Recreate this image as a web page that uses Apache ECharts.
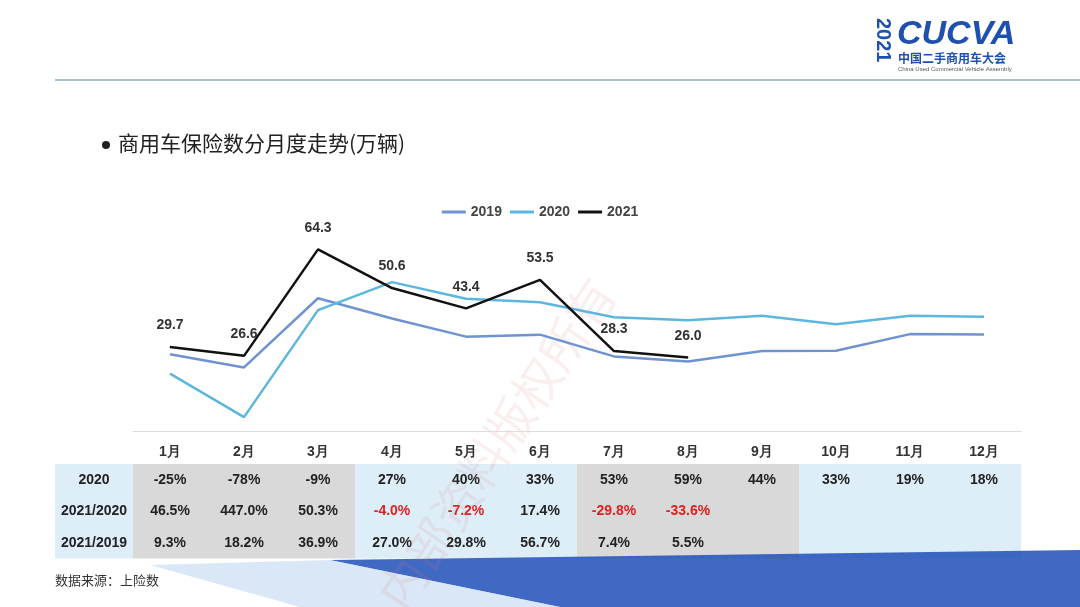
<!DOCTYPE html>
<html><head><meta charset="utf-8">
<script src="https://cdn.jsdelivr.net/npm/echarts@6/dist/echarts.min.js"></script>
<style>html,body{margin:0;padding:0;background:#fff}#c{width:1080px;height:607px}</style>
</head><body><div id="c"></div>
<script>
const months = ['1月','2月','3月','4月','5月','6月','7月','8月','9月','10月','11月','12月'];
const s2019 = [27.2,22.5,47.0,39.8,33.4,34.1,26.4,24.6,28.3,28.4,34.3,34.2];
const s2020 = [20.3,4.9,42.8,52.7,46.8,45.6,40.3,39.2,40.8,37.8,40.8,40.4];
const s2021 = [29.7,26.6,64.3,50.6,43.4,53.5,28.3,26.0];
const rowNames = ['2020','2021/2020','2021/2019'];
const row2020 = ['-25%','-78%','-9%','27%','40%','33%','53%','59%','44%','33%','19%','18%'];
const row21_20 = ['46.5%','447.0%','50.3%','-4.0%','-7.2%','17.4%','-29.8%','-33.6%'];
const row21_19 = ['9.3%','18.2%','36.9%','27.0%','29.8%','56.7%','7.4%','5.5%'];

const chart = echarts.init(document.getElementById('c'));
const L = 133, CW = 74, T0 = 464, RH = 31.5;
const g = [];
g.push({type:'rect',shape:{x:55,y:T0,width:L-55,height:RH*3},style:{fill:'#DDEEF9'}});
for (let i=0;i<12;i++){
  const gray = (i<3)||(i>=6&&i<9);
  g.push({type:'rect',shape:{x:L+i*CW,y:T0,width:CW,height:RH*3},style:{fill:gray?'#D9D9D9':'#DDEEF9'}});
}
const rows=[row2020,row21_20,row21_19];
rows.forEach((r,ri)=>{
  const y=T0+RH*ri+RH/2;
  g.push({type:'text',style:{text:rowNames[ri],x:94,y:y,textAlign:'center',textVerticalAlign:'middle',font:'bold 14px Arial, Liberation Sans',fill:'#222'}});
  r.forEach((v,i)=>{
    g.push({type:'text',style:{text:v,x:L+i*CW+CW/2,y:y,textAlign:'center',textVerticalAlign:'middle',font:'bold 14px Arial, Liberation Sans',fill:(v[0]==='-'&&ri===1)?'#E02020':'#222'}});
  });
});
g.push({type:'polygon',shape:{points:[[330,560],[1080,550],[1080,607],[560,607]]},style:{fill:'#1E4FB8',opacity:0.85}});
g.push({type:'polygon',shape:{points:[[150,565],[330,560],[560,607],[300,607]]},style:{fill:'#C9DDF2',opacity:0.7}});
g.push({type:'line',shape:{x1:55,y1:80,x2:1080,y2:80},style:{stroke:'#8FA8C0',lineWidth:1.5}});
g.push({type:'text',style:{text:'CUCVA',x:897,y:18,font:'bold italic 34px Arial, Liberation Sans',fill:'#1E50B0'}});
g.push({type:'text',rotation:-Math.PI/2,x:873,y:18,style:{text:'2021',x:0,y:0,font:'bold 20px Arial',fill:'#1E50B0',textVerticalAlign:'bottom'}});
g.push({type:'text',style:{text:'中国二手商用车大会',x:898,y:52,font:'bold 12px "Noto Sans CJK SC"',fill:'#1E50B0'}});
g.push({type:'text',style:{text:'China Used Commercial Vehicle Assembly',x:898,y:66,font:'6px Arial',fill:'#555'}});
g.push({type:'circle',shape:{cx:106,cy:145,r:4},style:{fill:'#222'}});
g.push({type:'text',style:{text:'商用车保险数分月度走势(万辆)',x:118,y:133,font:'21px "Noto Sans CJK SC"',fill:'#222'}});
g.push({type:'text',style:{text:'数据来源：上险数',x:55,y:574,font:'13px "Noto Sans CJK SC"',fill:'#333'}});
g.push({type:'text',rotation:Math.PI/3.2,x:370,y:590,style:{text:'内部资料版权所有',x:0,y:0,font:'48px "Noto Sans CJK SC"',fill:'rgba(220,120,120,0.13)'}});

chart.setOption({
  animation:false,
  legend:{top:200,left:'center',itemWidth:24,itemHeight:3,icon:'rect',textStyle:{fontSize:14,color:'#444',fontWeight:'bold'},data:['2019','2020','2021']},
  grid:{left:L,width:CW*12,top:205,height:226},
  xAxis:{type:'category',data:months,axisTick:{show:false},axisLine:{lineStyle:{color:'#ddd'}},axisLabel:{margin:14,fontSize:14,fontWeight:'bold',color:'#333'}},
  yAxis:{type:'value',min:0,max:80,show:false,splitLine:{show:false}},
  series:[
    {name:'2019',type:'line',data:s2019,symbol:'none',lineStyle:{width:2.5,color:'#6E93D0'},itemStyle:{color:'#6E93D0'}},
    {name:'2020',type:'line',data:s2020,symbol:'none',lineStyle:{width:2.5,color:'#5DB6DE'},itemStyle:{color:'#5DB6DE'}},
    {name:'2021',type:'line',data:s2021,symbol:'circle',symbolSize:1,showSymbol:true,lineStyle:{width:2.5,color:'#111'},itemStyle:{color:'#111'},
     label:{show:true,position:'top',distance:14,fontSize:14,fontWeight:'bold',color:'#333',formatter:p=>p.value.toFixed(1)}}
  ],
  graphic:g
});
</script></body></html>
